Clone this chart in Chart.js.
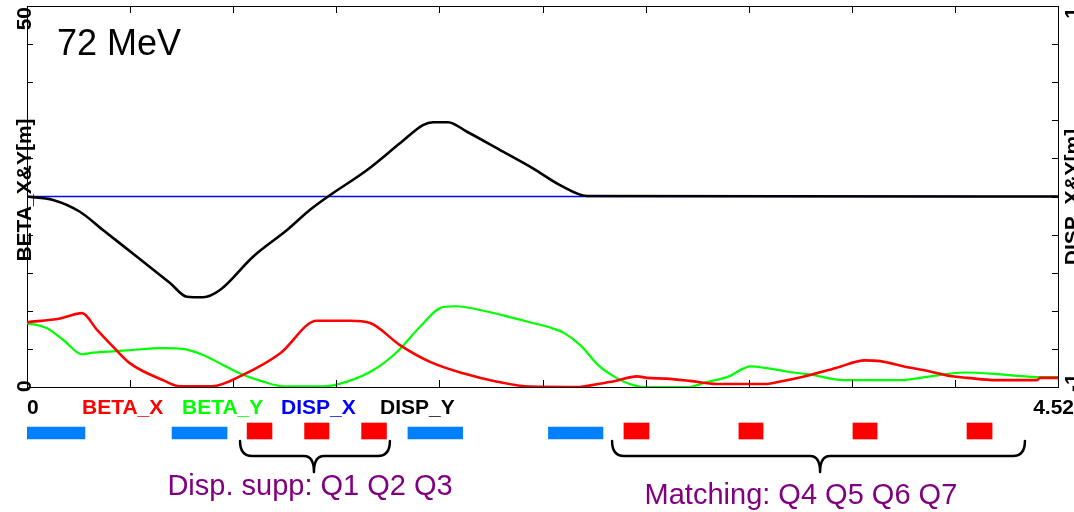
<!DOCTYPE html>
<html><head><meta charset="utf-8">
<script src="https://cdn.jsdelivr.net/npm/chart.js@4/dist/chart.umd.min.js"></script>
<style>
html,body{margin:0;padding:0;background:#fff;}
#wrap{position:relative;width:1074px;height:512px;overflow:hidden;background:#fff;}
canvas{position:absolute;left:0;top:0;}
</style></head><body>
<div id="wrap"><canvas id="main" width="1074" height="512"></canvas><canvas id="lat" width="1074" height="512"></canvas></div>
<script>
// ---- data (s in m) ----
const sMax = 4.52;
const energyLabel = '72 MeV';
const sBetaX = [0, 0.145, 0.241, 0.307, 0.377, 0.452, 0.596, 0.671, 0.811, 0.947, 1.109, 1.271, 1.416, 1.504, 1.635, 1.767, 1.912, 2.061, 2.205, 2.420, 2.503, 2.578, 2.674, 2.718, 2.801, 2.907, 3.025, 3.235, 3.292, 3.398, 3.547, 3.674, 3.740, 3.845, 3.950, 4.055, 4.121, 4.248, 4.428, 4.441, 4.52];
const betaX  = [8.5, 9.0, 9.7, 7.5, 5.3, 3.1, 0.9, 0.1, 0.1, 1.6, 4.4, 8.7, 8.7, 8.4, 5.5, 3.3, 1.8, 0.7, 0.05, 0, 0.4, 0.8, 1.4, 1.2, 1.1, 0.8, 0.4, 0.4, 0.65, 1.3, 2.5, 3.5, 3.4, 2.7, 2.1, 1.4, 1.2, 0.9, 0.9, 1.2, 1.2];
const sBetaY = [0, 0.088, 0.158, 0.241, 0.289, 0.438, 0.596, 0.684, 0.772, 0.859, 0.947, 1.035, 1.122, 1.306, 1.403, 1.517, 1.622, 1.723, 1.824, 1.885, 1.986, 2.087, 2.205, 2.293, 2.354, 2.429, 2.503, 2.578, 2.652, 2.714, 2.898, 2.981, 3.069, 3.174, 3.235, 3.336, 3.441, 3.577, 3.832, 3.937, 4.112, 4.292, 4.441, 4.52];
const betaY  = [8.4, 7.7, 6.2, 4.3, 4.5, 4.8, 5.1, 5.0, 4.2, 2.9, 1.6, 0.7, 0.1, 0.1, 0.7, 2.2, 4.6, 7.9, 10.5, 10.6, 10.1, 9.4, 8.5, 7.8, 7.1, 5.4, 2.9, 1.3, 0.3, 0, 0, 0.65, 1.3, 2.7, 2.5, 2.0, 1.6, 0.9, 0.9, 1.3, 1.9, 1.6, 1.3, 1.3];
const sDispX = [0, 4.52];
const dispX  = [0, 0];
const sDispY = [0, 0.114, 0.232, 0.333, 0.482, 0.627, 0.701, 0.772, 0.846, 0.991, 1.140, 1.241, 1.320, 1.491, 1.635, 1.736, 1.780, 1.846, 1.929, 2.074, 2.218, 2.337, 2.455, 4.52];
const dispY  = [0, -0.018, -0.080, -0.176, -0.316, -0.454, -0.526, -0.529, -0.491, -0.316, -0.176, -0.07, 0, 0.139, 0.279, 0.375, 0.390, 0.390, 0.340, 0.244, 0.148, 0.060, 0.003, 0];
const seriesNames = ['BETA_X', 'BETA_Y', 'DISP_X', 'DISP_Y'];
const leftTickLabels = ['0', '50'];
const rightTickLabels = ['-1', '1'];
const xTickLabels = ['0', '4.52'];
const leftTitle = 'BETA_X&Y[m]';
const rightTitle = 'DISP_X&Y[m]';
// lattice elements
const dipoleStart = [0, 0.636, 1.670, 2.286];
const dipoleEnd   = [0.254, 0.877, 1.910, 2.525];
const quadStart   = [0.965, 1.217, 1.467, 2.617, 3.121, 3.621, 4.121];
const quadEnd     = [1.074, 1.324, 1.576, 2.727, 3.227, 3.727, 4.231];
const groupNames  = ['Disp. supp: Q1 Q2 Q3', 'Matching: Q4 Q5 Q6 Q7'];
const groupStart  = [0.934, 2.565];
const groupEnd    = [1.591, 4.375];
const groupTip    = [1.258, 3.477];
const groupText   = [1.241, 3.393];

const pts = (s, v) => s.map((x, i) => ({x, y: v[i]}));
const BOLD = 'bold 21px "Liberation Sans", Arial, sans-serif';

const decor = {
  id: 'decor',
  afterDraw(chart) {
    const {ctx, chartArea: a, scales} = chart;
    ctx.save();
    ctx.strokeStyle = '#000';
    ctx.lineWidth = 1;
    ctx.beginPath();
    const each = (scale, fn) => scale.ticks.forEach(t => {
      const p = Math.round(scale.getPixelForValue(t.value)) + 0.5; fn(p);
    });
    each(scales.x, p => { if (p > a.left + 2 && p < a.right - 2) { ctx.moveTo(p, a.bottom); ctx.lineTo(p, a.bottom - 7); } });
    each(scales.xTop, p => { if (p > a.left + 2 && p < a.right - 2) { ctx.moveTo(p, a.top); ctx.lineTo(p, a.top + 7); } });
    each(scales.y, p => { if (p > a.top + 2 && p < a.bottom - 2) { ctx.moveTo(a.left, p); ctx.lineTo(a.left + 6, p); } });
    each(scales.y2, p => { if (p > a.top + 2 && p < a.bottom - 2) { ctx.moveTo(a.right, p); ctx.lineTo(a.right - 6, p); } });
    ctx.stroke();

    ctx.font = BOLD;
    ctx.fillStyle = '#000';
    ctx.textBaseline = 'alphabetic';
    const rot = (txt, x, y, align) => {
      ctx.save(); ctx.translate(x, y); ctx.rotate(-Math.PI / 2);
      ctx.textAlign = align; ctx.fillText(txt, 0, 0); ctx.restore();
    };
    const yb = scales.y.getPixelForValue(scales.y.min) + 5;
    const yt = scales.y.getPixelForValue(scales.y.max) + 1;
    rot(leftTickLabels[0], a.left + 4, yb, 'left');
    rot(leftTickLabels[1], a.left + 4, yt, 'right');
    rot(leftTitle, a.left + 4, 190, 'center');
    rot(rightTickLabels[0], a.right + 21, yb, 'left');
    rot(rightTickLabels[1], a.right + 21, yt, 'right');
    rot(rightTitle, a.right + 21, 197, 'center');

    ctx.textAlign = 'left';
    ctx.fillText(xTickLabels[0], scales.x.getPixelForValue(0), 414);
    ctx.textAlign = 'right';
    ctx.fillText(xTickLabels[1], 1074, 414);
    ctx.textAlign = 'left';
    const legX = [82, 182, 281, 380];
    chart.data.datasets.forEach((d, i) => {
      ctx.fillStyle = d.borderColor;
      ctx.fillText(d.label, legX[i], 414);
    });

    ctx.font = '36px "Liberation Sans", Arial, sans-serif';
    ctx.fillStyle = '#000';
    ctx.fillText(energyLabel, 57, 55);
    ctx.restore();
  }
};

new Chart(document.getElementById('main'), {
  type: 'line',
  data: {
    datasets: [
      {label: seriesNames[0], data: pts(sBetaX, betaX), borderColor: '#ff0000', borderWidth: 2.6, yAxisID: 'y', order: 1},
      {label: seriesNames[1], data: pts(sBetaY, betaY), borderColor: '#00ff00', borderWidth: 2.2, yAxisID: 'y', order: 2},
      {label: seriesNames[2], data: pts(sDispX, dispX), borderColor: '#0000ff', borderWidth: 1.5, yAxisID: 'y2', order: 3},
      {label: seriesNames[3], data: pts(sDispY, dispY), borderColor: '#000000', borderWidth: 2.6, yAxisID: 'y2', order: 0}
    ]
  },
  options: {
    responsive: false, animation: false, devicePixelRatio: 1,
    layout: {padding: {left: 27, right: 16, top: 6, bottom: 125}},
    elements: {point: {radius: 0}, line: {cubicInterpolationMode: 'monotone', fill: false}},
    plugins: {legend: {display: false}, tooltip: {enabled: false}},
    scales: {
      x: {type: 'linear', position: 'bottom', min: 0, max: sMax,
          ticks: {display: false, stepSize: sMax / 10}, grid: {drawOnChartArea: false, drawTicks: false},
          border: {display: true, color: '#000', width: 1}},
      xTop: {type: 'linear', position: 'top', min: 0, max: sMax,
          ticks: {display: false, stepSize: sMax / 10}, grid: {drawOnChartArea: false, drawTicks: false},
          border: {display: true, color: '#000', width: 1}},
      y: {type: 'linear', position: 'left', min: 0, max: 50,
          ticks: {display: false, stepSize: 5}, grid: {drawOnChartArea: false, drawTicks: false},
          border: {display: true, color: '#000', width: 1}},
      y2: {type: 'linear', position: 'right', min: -1, max: 1,
          ticks: {display: false, stepSize: 0.2}, grid: {drawOnChartArea: false, drawTicks: false},
          border: {display: true, color: '#000', width: 1}}
    }
  },
  plugins: [decor]
});

const annot = {
  id: 'annot',
  afterDraw(chart) {
    const {ctx} = chart;
    const xs = chart.scales.x;
    ctx.save();
    ctx.strokeStyle = '#000';
    ctx.lineWidth = 2.5;
    ctx.lineCap = 'round';
    ctx.lineJoin = 'round';
    const yTop = 441, yMid = 456, yTip = 472, r = 12, rt = 10;
    groupStart.forEach((s0, i) => {
      const x1 = xs.getPixelForValue(s0), x2 = xs.getPixelForValue(groupEnd[i]), xm = xs.getPixelForValue(groupTip[i]);
      ctx.beginPath();
      ctx.moveTo(x1, yTop);
      ctx.quadraticCurveTo(x1, yMid, x1 + r, yMid);
      ctx.lineTo(xm - rt, yMid);
      ctx.quadraticCurveTo(xm, yMid, xm, yTip);
      ctx.quadraticCurveTo(xm, yMid, xm + rt, yMid);
      ctx.lineTo(x2 - r, yMid);
      ctx.quadraticCurveTo(x2, yMid, x2, yTop);
      ctx.stroke();
    });
    ctx.font = '29px "Liberation Sans", Arial, sans-serif';
    ctx.fillStyle = '#800080';
    ctx.textAlign = 'center';
    const base = [495, 504];
    groupNames.forEach((t, i) => ctx.fillText(t, xs.getPixelForValue(groupText[i]), base[i]));
    ctx.restore();
  }
};

// lattice strip: y scale spans the whole canvas height so its values are the strip's row positions
new Chart(document.getElementById('lat'), {
  type: 'bar',
  data: {
    datasets: [
      {label: 'Dipoles', data: dipoleStart.map((a, i) => ({x: [a, dipoleEnd[i]], y: 433})),
       backgroundColor: '#0080ff', borderWidth: 0, barThickness: 12, grouped: false},
      {label: 'Quadrupoles', data: quadStart.map((a, i) => ({x: [a, quadEnd[i]], y: 431})),
       backgroundColor: '#ff0000', borderWidth: 0, barThickness: 16, grouped: false}
    ]
  },
  options: {
    indexAxis: 'y', responsive: false, animation: false, devicePixelRatio: 1,
    layout: {padding: {left: 27, right: 16, top: 0, bottom: 0}},
    plugins: {legend: {display: false}, tooltip: {enabled: false}},
    scales: {
      x: {type: 'linear', min: 0, max: sMax, display: false},
      y: {type: 'linear', min: 0, max: 512, reverse: true, offset: false, display: false}
    }
  },
  plugins: [annot]
});
</script>
</body></html>
